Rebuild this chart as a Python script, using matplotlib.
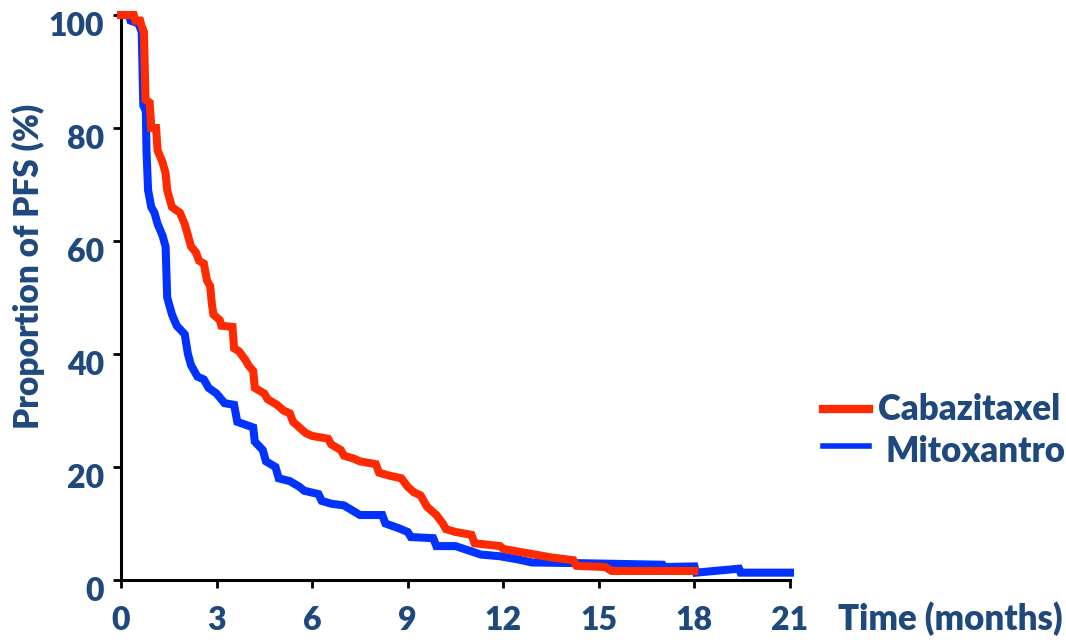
import matplotlib
matplotlib.use("Agg")
import matplotlib.pyplot as plt
from matplotlib.lines import Line2D
from matplotlib.transforms import ScaledTranslation

# Cabazitaxel PFS curve (months, %)
caba_t = [0, 0.4, 0.45, 0.6, 0.65, 0.72, 0.77, 0.9, 0.95, 1.1, 1.15, 1.3, 1.4, 1.45,
          1.55, 1.6, 1.85, 2.0, 2.1, 2.2, 2.35, 2.45, 2.6, 2.7, 2.8, 2.85, 2.9, 3.1,
          3.15, 3.5, 3.55, 3.7, 3.9, 4.0, 4.15, 4.2, 4.5, 4.6, 4.9, 5.1, 5.3, 5.4,
          5.6, 5.8, 6.0, 6.5, 6.6, 6.9, 7.0, 7.3, 7.5, 8.0, 8.1, 8.4, 8.8, 9.0,
          9.2, 9.4, 9.6, 9.9, 10.1, 10.2, 10.5, 11.0, 11.1, 11.9, 12.0, 12.5, 13.0,
          13.5, 14.2, 14.3, 15.2, 15.4, 18.0]
caba_s = [100, 100, 99, 99, 98, 97, 85, 84.5, 80, 80, 76, 74, 72, 69,
          67, 66, 65, 63, 61, 59, 58, 56.5, 56, 53, 52, 49, 47, 46,
          45, 44.8, 41, 40.5, 39, 38, 37, 34, 33, 32, 31, 30, 29.5, 28,
          27, 26, 25.5, 25, 24, 23, 22, 21.5, 21, 20.5, 19, 18.5, 18, 16.5,
          15.5, 15, 13, 11.5, 10, 9, 8.5, 8.0, 6.5, 6.0, 5.5, 5.0, 4.5,
          4.0, 3.5, 2.5, 2.3, 1.6, 1.6]

# Mitoxantrone PFS curve (months, %)
mito_t = [0, 0.25, 0.3, 0.55, 0.65, 0.7, 0.78, 0.8, 0.85, 0.95, 1.05, 1.15, 1.3, 1.4,
          1.45, 1.6, 1.75, 2.0, 2.1, 2.2, 2.4, 2.6, 2.75, 3.0, 3.25, 3.55, 3.65, 3.9,
          4.15, 4.2, 4.45, 4.55, 4.85, 4.95, 5.3, 5.6, 5.75, 6.2, 6.3, 6.6, 7.0, 7.5,
          8.2, 8.3, 8.7, 9.0, 9.1, 9.8, 9.9, 10.5, 11.3, 11.9, 12.5, 12.9, 14.2,
          17.0, 17.05, 18.0, 18.05, 19.4, 19.45, 21.0]
mito_s = [100, 100, 99, 98.5, 97, 84, 83, 76, 69, 66, 65, 63, 61, 59,
          50, 47, 45, 43.5, 40, 38, 36, 35.5, 34, 33, 31.3, 31, 28, 27.5,
          27, 24.5, 23, 21, 20, 18, 17.5, 16.5, 15.8, 15.2, 14, 13.5, 13.2, 11.5,
          11.5, 10, 9.2, 8.5, 7.6, 7.4, 6.0, 6.0, 4.5, 4.2, 3.6, 3.1, 3.0,
          2.7, 2.3, 2.4, 1.3, 2.0, 1.3, 1.3]

x_ticks = [0, 3, 6, 9, 12, 15, 18, 21]
y_ticks = [0, 20, 40, 60, 80, 100]

RED = "#FF2A00"
BLUE = "#0033FF"
TXT = "#1F497D"

plt.rcParams["font.family"] = ["Lato", "DejaVu Sans"]
plt.rcParams["font.weight"] = "heavy"

W, H = 1066, 640
fig = plt.figure(figsize=(W / 100, H / 100), dpi=100)
ax = fig.add_axes([121 / W, 1 - 580 / H, (790 - 121) / W, (580 - 15) / H])

ax.plot(mito_t, mito_s, color=BLUE, lw=5.8, solid_joinstyle="miter", clip_on=False, zorder=3)
ax.plot(caba_t, caba_s, color=RED, lw=5.8, solid_joinstyle="miter", clip_on=False, zorder=4)

ax.set_xlim(0, 21)
ax.set_ylim(0, 100)
ax.set_xticks(x_ticks)
ax.set_yticks(y_ticks)
for s in ["top", "right"]:
    ax.spines[s].set_visible(False)
for s in ["left", "bottom"]:
    ax.spines[s].set_linewidth(2.2)
ax.tick_params(axis="both", direction="out", length=6, width=2, colors="black",
               labelcolor=TXT, labelsize=23)
ax.tick_params(axis="x", pad=13)
ax.tick_params(axis="y", pad=6)
shift = ScaledTranslation(0, -9 / 100, fig.dpi_scale_trans)
for lab in ax.get_yticklabels():
    lab.set_transform(lab.get_transform() + shift)
for lab in ax.get_xticklabels() + ax.get_yticklabels():
    lab.set_fontweight("heavy")

fig.text(28 / W, 1 - 266 / H, "Proportion of PFS (%)", rotation=90, ha="center",
         va="center", color=TXT, fontsize=24, fontweight="heavy")
fig.text(838 / W, 1 - 619 / H, "Time (months)", ha="left", va="center",
         color=TXT, fontsize=25, fontweight="heavy")

# legend drawn by hand, text runs off the right edge like the original
fig.add_artist(Line2D([823 / W, 869 / W], [1 - 409 / H] * 2, color=RED, lw=6))
fig.add_artist(Line2D([823 / W, 869 / W], [1 - 446 / H] * 2, color=BLUE, lw=4))
fig.text(878 / W, 1 - 410 / H, "Cabazitaxel", ha="left", va="center",
         color=TXT, fontsize=25, fontweight="heavy")
fig.text(885 / W, 1 - 452 / H, "Mitoxantrone", ha="left", va="center",
         color=TXT, fontsize=25, fontweight="heavy")

fig.savefig("out.png", dpi=100)
